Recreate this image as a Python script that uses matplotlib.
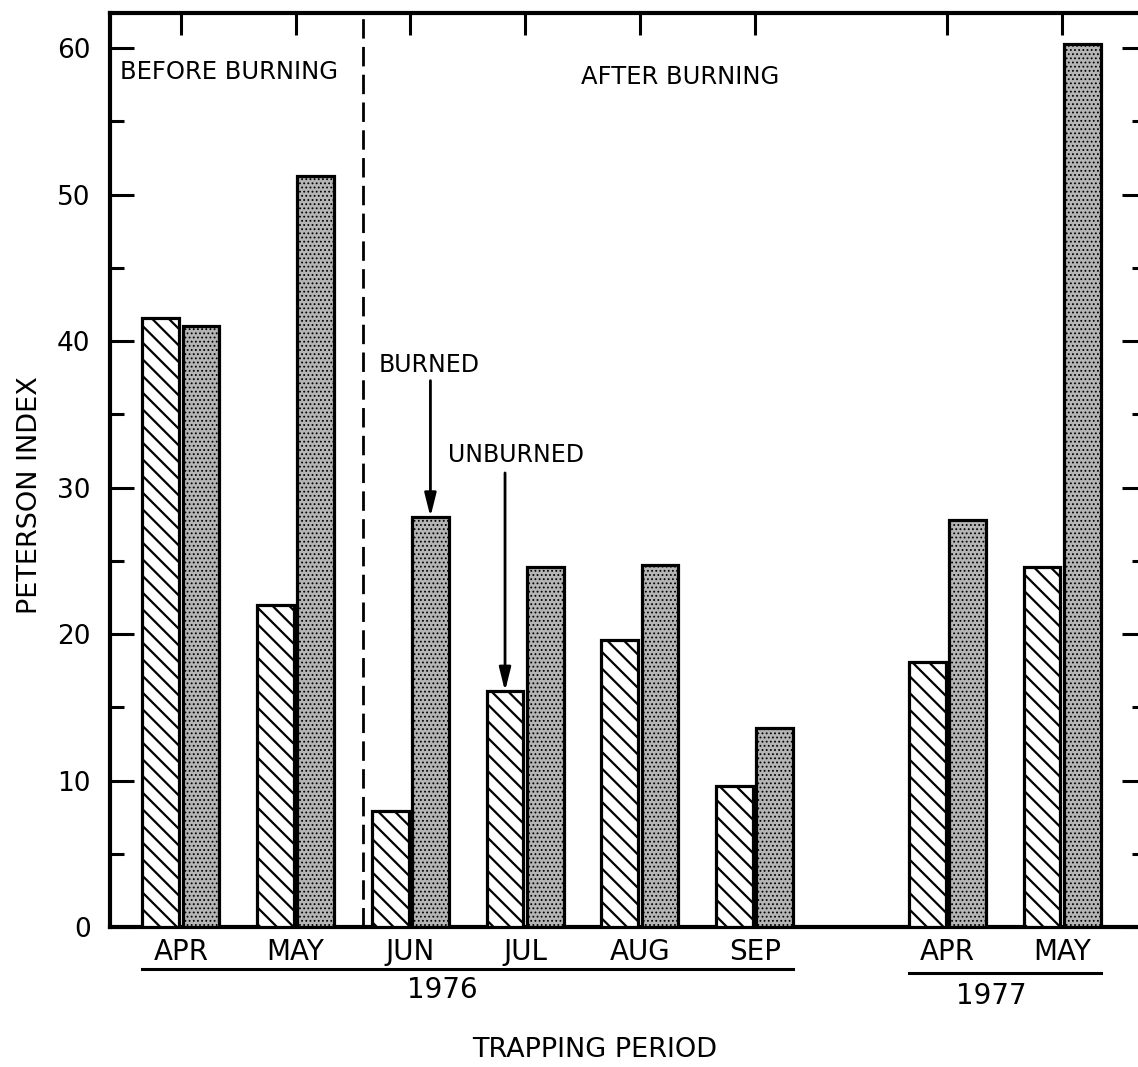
import numpy as np
import matplotlib
matplotlib.use("Agg")
import matplotlib.pyplot as plt
from matplotlib.ticker import MultipleLocator
import matplotlib.transforms as mtransforms

# Peterson index by trapping period
months = ["APR", "MAY", "JUN", "JUL", "AUG", "SEP", "APR", "MAY"]
positions = [0, 1, 2, 3, 4, 5, 6.68, 7.68]
unburned = [41.6, 22.0, 7.9, 16.1, 19.6, 9.6, 18.1, 24.6]   # hatched
burned = [41.0, 51.3, 28.0, 24.6, 24.7, 13.6, 27.8, 60.3]     # stippled

plt.rcParams['font.family'] = ['DejaVu Sans']
plt.rcParams['hatch.color'] = 'black'

fig = plt.figure(figsize=(11.38, 10.67), dpi=100)
ax = fig.add_axes([110 / 1138, 140 / 1067, 1036 / 1138, 914 / 1067])

x = np.array(positions)
off, w = 0.175, 0.32

plt.rcParams['hatch.linewidth'] = 1.6
ax.bar(x - off, unburned, width=w, facecolor='white', edgecolor='black',
       linewidth=2.3, hatch='\\\\', zorder=3)
plt.rcParams['hatch.linewidth'] = 0.8
ax.bar(x + off, burned, width=w, facecolor='#b5b5b5', edgecolor='black',
       linewidth=2.3, hatch='....', zorder=3)

ax.set_xlim(-0.617, 8.41)
ax.set_ylim(0, 62.4)

for s in ax.spines.values():
    s.set_linewidth(3)

# left / right ticks
ax.yaxis.set_major_locator(MultipleLocator(10))
ax.yaxis.set_minor_locator(MultipleLocator(5))
ax.tick_params(axis='y', which='major', direction='in', length=17, width=2.2,
               labelsize=19, pad=14, right=True)
ax.tick_params(axis='y', which='minor', direction='in', length=10, width=2.2,
               right=True)

# month labels at the bottom, inward ticks on top
ax.set_xticks(positions)
ax.set_xticklabels(months)
ax.tick_params(axis='x', which='major', direction='in', bottom=False, top=True,
               length=16, width=2.2, labelsize=20, pad=8)
ax.tick_params(axis='x', which='minor', bottom=False, top=False)

# before/after divider
ax.axvline(1.59, color='black', linewidth=2, linestyle=(0, (7, 3)), zorder=2)

ax.text(-0.53, 58.4, "BEFORE BURNING", fontsize=17.5, va='center', ha='left')
ax.text(4.35, 58.0, "AFTER BURNING", fontsize=17.5, va='center', ha='center')

ax.text(1.72, 38.4, "BURNED", fontsize=17, va='center', ha='left')
ax.annotate("", xy=(2 + off, burned[2]), xytext=(2 + off, 37.3),
            arrowprops=dict(arrowstyle='-|>,head_length=1.4,head_width=0.35',
                            color='black', lw=2, shrinkA=0, shrinkB=0))
ax.text(2.33, 32.2, "UNBURNED", fontsize=17, va='center', ha='left')
ax.annotate("", xy=(3 - off, unburned[3]), xytext=(3 - off, 31.0),
            arrowprops=dict(arrowstyle='-|>,head_length=1.4,head_width=0.35',
                            color='black', lw=2, shrinkA=0, shrinkB=0))

# year groupings under the month labels
trans = mtransforms.blended_transform_factory(ax.transData, ax.transAxes)
ax.plot([positions[0] - off - w / 2, positions[5] + off + w / 2], [-0.046, -0.046],
        color='black', lw=2.2, transform=trans, clip_on=False)
ax.plot([positions[6] - off - w / 2, positions[7] + off + w / 2], [-0.05, -0.05],
        color='black', lw=2.2, transform=trans, clip_on=False)
ax.text(2.28, -0.069, "1976", fontsize=20, ha='center', va='center', transform=trans)
ax.text(7.06, -0.075, "1977", fontsize=20, ha='center', va='center', transform=trans)

fig.text(595 / 1138, 1 - 1050 / 1067, "TRAPPING PERIOD", fontsize=19.5,
         ha='center', va='center')
fig.text(30 / 1138, 1 - 495 / 1067, "PETERSON INDEX", fontsize=19.5,
         ha='center', va='center', rotation=90)

fig.savefig("out.png", dpi=100, facecolor='white')
